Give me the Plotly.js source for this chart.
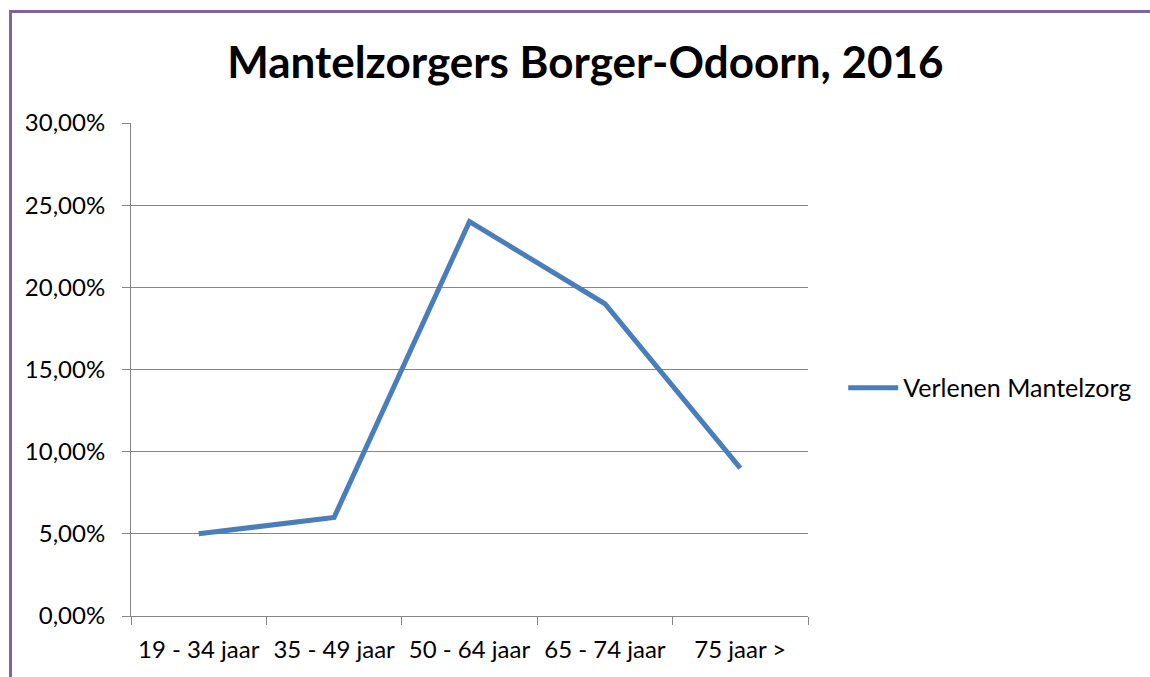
<!DOCTYPE html>
<html>
<head>
<meta charset="utf-8">
<script src="https://cdn.plot.ly/plotly-3.0.1.min.js"></script>
<style>
  html, body { margin: 0; padding: 0; background: #ffffff; }
  #wrap { position: relative; width: 1150px; height: 677px; overflow: hidden; }
  #chart { position: absolute; left: 0; top: 0; width: 1150px; height: 677px; }
  #frame { position: absolute; left: 9px; top: 10px; width: 1200px; height: 700px;
           border-left: 3px solid #8064A2; border-top: 3px solid #8064A2; pointer-events: none; }
</style>
</head>
<body>
<div id="wrap">
  <div id="chart"></div>
  <div id="frame"></div>
</div>
<script>
const categories = ["19 - 34 jaar", "35 - 49 jaar", "50 - 64 jaar", "65 - 74 jaar", "75 jaar >"];
const seriesName = "Verlenen Mantelzorg";
const seriesValues = [0.05, 0.06, 0.24, 0.19, 0.09];
const titleText = "Mantelzorgers Borger-Odoorn, 2016";

const FONT = "Lato, Carlito, Calibri, 'Open Sans', sans-serif";

const trace = {
  type: "scatter",
  mode: "lines",
  x: categories,
  y: seriesValues,
  name: seriesName,
  line: { color: "#4A7EBB", width: 5 },
  showlegend: true
};

const layout = {
  width: 1150,
  height: 677,
  paper_bgcolor: "#ffffff",
  plot_bgcolor: "#ffffff",
  separators: ",.",
  font: { family: FONT, color: "#000000", size: 24 },
  margin: { l: 131, r: 342, t: 123, b: 61, pad: 0, autoexpand: false },
  title: {
    text: "<b>" + titleText + "</b>",
    font: { family: FONT, size: 44, color: "#000000" },
    xref: "container", yref: "container",
    x: 0.509, xanchor: "center",
    y: 0.908, yanchor: "middle"
  },
  xaxis: {
    type: "category",
    range: [-0.5, 4.5],
    showgrid: false,
    showline: true, linecolor: "#868686", linewidth: 1,
    ticks: "outside", ticklen: 8, tickcolor: "#868686", tickwidth: 1,
    tickson: "boundaries",
    tickfont: { family: FONT, size: 24, color: "#000000" },
    ticklabelstandoff: 12,
    zeroline: false,
    fixedrange: true
  },
  yaxis: {
    range: [0, 0.30],
    dtick: 0.05,
    tick0: 0,
    tickformat: ".2%",
    showgrid: true, gridcolor: "#868686", gridwidth: 1,
    showline: true, linecolor: "#868686", linewidth: 1,
    ticks: "outside", ticklen: 8, tickcolor: "#868686", tickwidth: 1,
    tickfont: { family: FONT, size: 24, color: "#000000" },
    ticklabelstandoff: 12,
    zeroline: false,
    fixedrange: true
  },
  showlegend: true,
  legend: {
    x: 1.052, xanchor: "left",
    y: 0.4625, yanchor: "middle",
    font: { family: FONT, size: 25, color: "#000000" },
    bgcolor: "rgba(0,0,0,0)",
    itemwidth: 50
  }
};

Plotly.newPlot("chart", [trace], layout, { displayModeBar: false, staticPlot: true });
</script>
</body>
</html>
